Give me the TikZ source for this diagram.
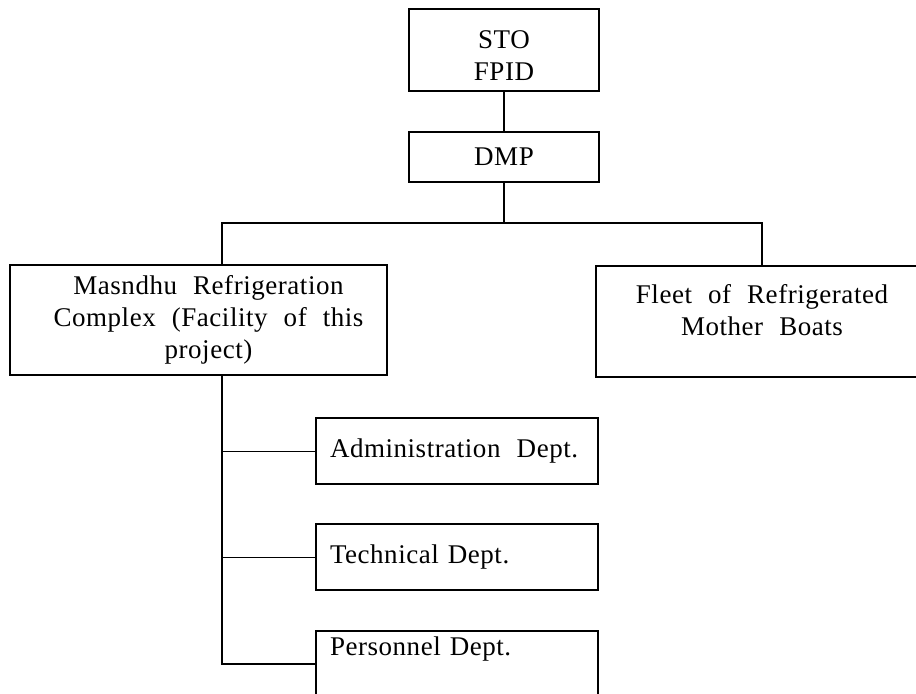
\documentclass[tikz,border=0pt]{standalone}
\usepackage{fontspec}
\setmainfont[WordSpace=2.2,LetterSpace=2]{Liberation Serif}

\begin{document}
\begin{tikzpicture}[x=0.5pt,y=-0.5pt,
  font=\fontsize{13.5}{16}\selectfont,
  bx/.style={draw,line width=0.7pt,inner sep=0pt,align=center},
  dept/.style={bx,minimum width=141pt,minimum height=33pt,text width=127pt,
    inner xsep=7pt,align=left},
  ln/.style={line width=1pt}]
  \useasboundingbox (0,0) rectangle (916,694);
  \node[bx,minimum width=95pt,minimum height=41pt] (sto) at (504,50) {\rule{0pt}{15pt}STO\\FPID};
  \node[bx,minimum width=95pt,minimum height=25pt] (dmp) at (504,157) {DMP};
  \node[bx,minimum width=188.5pt,minimum height=55pt] (mrc) at (198.5,320)
    {\hspace{10pt}Masndhu Refrigeration\\\hspace{10pt}Complex (Facility of this\\\hspace{10pt}project)};
  \node[bx,minimum width=166pt,minimum height=55.5pt,text depth=12pt] (fleet) at (762,321.5)
    {Fleet of Refrigerated\\Mother Boats};
  \node[dept] (adm)  at (457,451) {\mbox{Administration\hspace{0.6em}Dept.}};
  \node[dept] (tech) at (457,557) {Technical Dept.};
  \node[dept,text depth=18pt] (pers) at (457,664) {Personnel Dept.};
  \coordinate (busl) at (222,223);
  \draw[ln] (sto) -- (dmp);
  \draw[ln] (dmp) -- (dmp |- busl);
  \draw[ln] (busl |- mrc.north) -- (busl) -| (fleet.north);
  \draw[ln] (busl |- mrc.south) |- (pers.west);
  \draw (busl |- adm.west) -- (adm.west);
  \draw (busl |- tech.west) -- (tech.west);
\end{tikzpicture}
\end{document}
